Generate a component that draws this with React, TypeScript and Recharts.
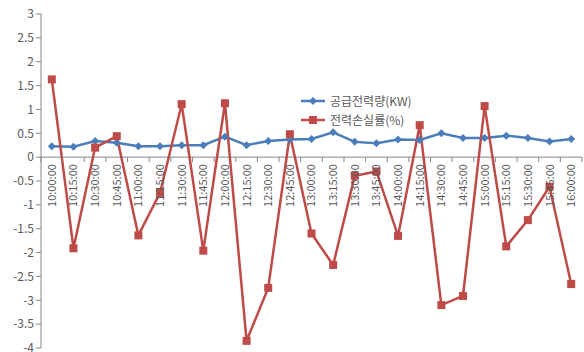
import React from "react";
import { LineChart, Line, XAxis, YAxis, ReferenceLine } from "recharts";

const times = [
  "10:00:00", "10:15:00", "10:30:00", "10:45:00", "11:00:00", "11:15:00", "11:30:00",
  "11:45:00", "12:00:00", "12:15:00", "12:30:00", "12:45:00", "13:00:00", "13:15:00",
  "13:30:00", "13:45:00", "14:00:00", "14:15:00", "14:30:00", "14:45:00", "15:00:00",
  "15:15:00", "15:30:00", "15:45:00", "16:00:00",
];
const supply = [
  0.23, 0.22, 0.34, 0.3, 0.23, 0.23, 0.25, 0.25, 0.43, 0.25, 0.34, 0.37, 0.38, 0.52,
  0.32, 0.29, 0.37, 0.36, 0.5, 0.4, 0.4, 0.45, 0.4, 0.33, 0.38,
];
const loss = [
  1.63, -1.91, 0.2, 0.44, -1.64, -0.75, 1.11, -1.96, 1.13, -3.85, -2.74, 0.48, -1.6, -2.26,
  -0.39, -0.3, -1.65, 0.67, -3.1, -2.91, 1.07, -1.87, -1.32, -0.62, -2.66,
];
const yTicks = [-4, -3.5, -3, -2.5, -2, -1.5, -1, -0.5, 0, 0.5, 1, 1.5, 2, 2.5, 3];

const data = times.map((t, i) => ({ time: t, supply: supply[i], loss: loss[i] }));

const W = 584;
const H = 352;
const M = { top: 14, right: 2, bottom: 3, left: 0 };
const YW = 41;
const XH = 1;
const plotH = H - M.top - M.bottom - XH;
const plotW = W - M.left - M.right - YW;
const zeroY = M.top + (plotH * 3) / 7;
const band = plotW / times.length;

const BLUE = "#4A7EBB";
const RED = "#BE4B48";
const AXIS = "#868686";
const TEXT = "#595959";
const FONT = "'Noto Sans CJK KR', 'Noto Sans', sans-serif";

const XTick = (props: any) => {
  const { x, payload, index } = props;
  return (
    <g>
      <line x1={x + band / 2} x2={x + band / 2} y1={zeroY} y2={zeroY + 5} stroke={AXIS} />
      {index === 0 && <line x1={x - band / 2} x2={x - band / 2} y1={zeroY} y2={zeroY + 5} stroke={AXIS} />}
      <text
        x={x + 4}
        y={zeroY + 7}
        transform={`rotate(-90 ${x + 4} ${zeroY + 7})`}
        textAnchor="end"
        fontSize={11}
        fill={TEXT}
        fontFamily={FONT}
      >
        {payload.value}
      </text>
    </g>
  );
};

const Diamond = (props: any) => {
  const { cx, cy, index } = props;
  if (cx == null || cy == null) return <g key={index} />;
  const r = 4;
  return (
    <polygon
      key={index}
      points={`${cx},${cy - r} ${cx + r},${cy} ${cx},${cy + r} ${cx - r},${cy}`}
      fill={BLUE}
    />
  );
};

const Square = (props: any) => {
  const { cx, cy, index } = props;
  if (cx == null || cy == null) return <g key={index} />;
  return <rect key={index} x={cx - 4} y={cy - 4} width={8} height={8} fill={RED} />;
};

const legendItems = [
  { name: "공급전력량(KW)", color: BLUE, shape: "diamond" },
  { name: "전력손실률(%)", color: RED, shape: "square" },
];

const LegendBox = () => (
  <div
    style={{
      position: "absolute",
      left: 301,
      top: 91,
      fontFamily: FONT,
      fontSize: 12,
      color: TEXT,
    }}
  >
    {legendItems.map((it) => (
      <div key={it.name} style={{ display: "flex", alignItems: "center", height: 19 }}>
        <svg width={26} height={12} style={{ marginRight: 3 }}>
          <line x1={0} x2={24} y1={6} y2={6} stroke={it.color} strokeWidth={2.5} />
          {it.shape === "diamond" ? (
            <polygon points="12,2 16,6 12,10 8,6" fill={it.color} />
          ) : (
            <rect x={8} y={2} width={8} height={8} fill={it.color} />
          )}
        </svg>
        <span>{it.name}</span>
      </div>
    ))}
  </div>
);

export default function App() {
  return (
    <div style={{ position: "absolute", left: 0, top: 0, width: W, height: H, background: "#fff" }}>
      <LineChart width={W} height={H} data={data} margin={M}>
        <XAxis
          dataKey="time"
          height={XH}
          axisLine={false}
          tickLine={false}
          interval={0}
          padding={{ left: band / 2, right: band / 2 }}
          tick={<XTick />}
        />
        <YAxis
          width={YW}
          domain={[-4, 3]}
          ticks={yTicks}
          interval={0}
          axisLine={{ stroke: AXIS }}
          tickLine={{ stroke: AXIS }}
          tickSize={5}
          tick={{ fontSize: 12, fill: TEXT, fontFamily: FONT }}
        />
        <ReferenceLine y={0} stroke={AXIS} />
        <Line
          dataKey="supply"
          name="공급전력량(KW)"
          stroke={BLUE}
          strokeWidth={2.5}
          dot={<Diamond />}
          activeDot={false}
          isAnimationActive={false}
        />
        <Line
          dataKey="loss"
          name="전력손실률(%)"
          stroke={RED}
          strokeWidth={2.5}
          dot={<Square />}
          activeDot={false}
          isAnimationActive={false}
        />
      </LineChart>
      <LegendBox />
    </div>
  );
}
